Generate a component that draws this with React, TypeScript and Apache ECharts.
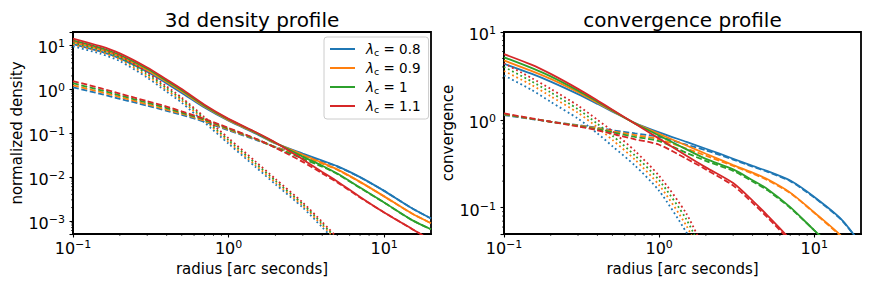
import React, { useEffect, useRef } from 'react';
import * as echarts from 'echarts';

// radius sample points [arc seconds]
const RADIUS = [0.1, 0.15, 0.2, 0.3, 0.4, 0.5, 0.7, 1, 1.5, 2, 3, 4, 5, 7, 10, 15, 20];
const LAMBDA_LABELS = ['0.8', '0.9', '1', '1.1'];
const COLORS = ['#1f77b4', '#ff7f0e', '#2ca02c', '#d62728'];

// 3d density profile: total (solid)
const DENS_TOTAL_08 = [10.6, 7.2, 5.0, 2.5, 1.35, 0.82, 0.38, 0.19, 0.097, 0.058, 0.034, 0.0236, 0.0176, 0.0099, 0.0048, 0.00195, 0.00113];
const DENS_TOTAL_09 = [11.8, 8.0, 5.5, 2.7, 1.45, 0.88, 0.4, 0.197, 0.1, 0.059, 0.032, 0.021, 0.0148, 0.0077, 0.0036, 0.00148, 0.00088];
const DENS_TOTAL_10 = [12.9, 8.7, 6.0, 2.9, 1.55, 0.94, 0.42, 0.204, 0.102, 0.06, 0.029, 0.018, 0.0119, 0.0057, 0.0026, 0.00105, 0.00064];
const DENS_TOTAL_11 = [14.2, 9.5, 6.5, 3.1, 1.65, 1.0, 0.44, 0.21, 0.104, 0.061, 0.025, 0.013, 0.0079, 0.0035, 0.00155, 0.00066, 0.00036];
// 3d density profile: extended component (dashed)
const DENS_EXT_08 = [1.1, 0.78, 0.6, 0.42, 0.32, 0.26, 0.18, 0.115, 0.07, 0.048, 0.031, 0.0226, 0.0172, 0.0098, 0.0048, 0.00195, 0.00113];
const DENS_EXT_09 = [1.22, 0.86, 0.66, 0.45, 0.34, 0.275, 0.19, 0.12, 0.072, 0.048, 0.029, 0.02, 0.0145, 0.0076, 0.0036, 0.00148, 0.00088];
const DENS_EXT_10 = [1.36, 0.95, 0.72, 0.49, 0.37, 0.29, 0.2, 0.125, 0.073, 0.047, 0.026, 0.0171, 0.0116, 0.0056, 0.0026, 0.00105, 0.00064];
const DENS_EXT_11 = [1.52, 1.05, 0.79, 0.53, 0.4, 0.31, 0.21, 0.13, 0.074, 0.046, 0.022, 0.012, 0.0075, 0.0034, 0.00155, 0.00066, 0.00036];
// 3d density profile: compact component (dotted), up to r = 5
const DENS_CMP_08 = [9.4, 6.4, 4.35, 1.83, 0.87, 0.49, 0.174, 0.057, 0.0165, 0.0068, 0.002, 0.00071, 0.00031];
const DENS_CMP_09 = [10.4, 7.1, 4.8, 2.0, 0.96, 0.54, 0.192, 0.063, 0.0182, 0.0075, 0.0022, 0.00079, 0.00035];
const DENS_CMP_10 = [11.3, 7.8, 5.25, 2.2, 1.05, 0.59, 0.21, 0.069, 0.02, 0.0082, 0.0024, 0.00086, 0.00038];
const DENS_CMP_11 = [12.4, 8.5, 5.75, 2.4, 1.15, 0.64, 0.23, 0.076, 0.022, 0.009, 0.0026, 0.00094, 0.00041];

// convergence profile: total (solid)
const CONV_TOTAL_08 = [4.35, 3.35, 2.72, 1.96, 1.52, 1.24, 0.92, 0.72, 0.56, 0.468, 0.36, 0.298, 0.26, 0.203, 0.132, 0.073, 0.038];
const CONV_TOTAL_09 = [4.75, 3.6, 2.92, 2.06, 1.56, 1.26, 0.91, 0.69, 0.51, 0.41, 0.305, 0.25, 0.21, 0.148, 0.088, 0.047, 0.025];
const CONV_TOTAL_10 = [5.15, 3.9, 3.12, 2.15, 1.61, 1.28, 0.905, 0.66, 0.46, 0.358, 0.272, 0.205, 0.162, 0.101, 0.055, 0.028, 0.016];
const CONV_TOTAL_11 = [5.6, 4.25, 3.33, 2.25, 1.66, 1.3, 0.9, 0.61, 0.39, 0.287, 0.19, 0.12, 0.081, 0.043, 0.018, 0.006, 0.003];
// convergence profile: extended component (dashed)
const CONV_EXT_08 = [1.13, 1.02, 0.95, 0.87, 0.81, 0.76, 0.7, 0.64, 0.52, 0.45, 0.352, 0.293, 0.255, 0.2, 0.13, 0.072, 0.038];
const CONV_EXT_09 = [1.15, 1.03, 0.95, 0.86, 0.8, 0.74, 0.67, 0.6, 0.47, 0.39, 0.298, 0.244, 0.205, 0.146, 0.087, 0.046, 0.025];
const CONV_EXT_10 = [1.16, 1.03, 0.95, 0.85, 0.78, 0.72, 0.64, 0.57, 0.42, 0.34, 0.262, 0.198, 0.157, 0.099, 0.055, 0.028, 0.016];
const CONV_EXT_11 = [1.18, 1.04, 0.95, 0.84, 0.76, 0.69, 0.6, 0.52, 0.36, 0.272, 0.178, 0.113, 0.077, 0.041, 0.017, 0.0058, 0.0029];
// convergence profile: compact component (dotted), up to r = 2
const CONV_CMP_08 = [3.2, 2.2, 1.6, 1.03, 0.7, 0.5, 0.3, 0.155, 0.052, 0.02];
const CONV_CMP_09 = [3.6, 2.5, 1.85, 1.2, 0.82, 0.59, 0.35, 0.18, 0.062, 0.022];
const CONV_CMP_10 = [4.0, 2.75, 2.05, 1.32, 0.9, 0.66, 0.39, 0.205, 0.073, 0.026];
const CONV_CMP_11 = [4.4, 3.0, 2.25, 1.45, 1.0, 0.74, 0.44, 0.23, 0.085, 0.03];

// axis ranges and minor tick positions
const X_RANGE = [0.1, 20];
const DENS_RANGE = [5e-4, 20];
const CONV_RANGE = [0.05, 10];
const X_MINOR = [0.2, 0.3, 0.4, 0.5, 0.6, 0.7, 0.8, 0.9, 2, 3, 4, 5, 6, 7, 8, 9];
const DENS_MINOR = [6e-4, 7e-4, 8e-4, 9e-4, 2e-3, 3e-3, 4e-3, 5e-3, 6e-3, 7e-3, 8e-3, 9e-3, 0.02, 0.03, 0.04, 0.05, 0.06, 0.07, 0.08, 0.09, 0.2, 0.3, 0.4, 0.5, 0.6, 0.7, 0.8, 0.9, 2, 3, 4, 5, 6, 7, 8, 9];
const CONV_MINOR = [0.06, 0.07, 0.08, 0.09, 0.2, 0.3, 0.4, 0.5, 0.6, 0.7, 0.8, 0.9, 2, 3, 4, 5, 6, 7, 8, 9];

const FONT = 'DejaVu Sans';

const DENS_SETS = [
  [DENS_TOTAL_08, DENS_EXT_08, DENS_CMP_08],
  [DENS_TOTAL_09, DENS_EXT_09, DENS_CMP_09],
  [DENS_TOTAL_10, DENS_EXT_10, DENS_CMP_10],
  [DENS_TOTAL_11, DENS_EXT_11, DENS_CMP_11],
];
const CONV_SETS = [
  [CONV_TOTAL_08, CONV_EXT_08, CONV_CMP_08],
  [CONV_TOTAL_09, CONV_EXT_09, CONV_CMP_09],
  [CONV_TOTAL_10, CONV_EXT_10, CONV_CMP_10],
  [CONV_TOTAL_11, CONV_EXT_11, CONV_CMP_11],
];

const logLabel = (v: number) => {
  const e = Math.log10(v);
  const r = Math.round(e);
  if (Math.abs(e - r) > 1e-6) return '';
  const s = r < 0 ? '\u2212' + -r : String(r);
  return `{b|10}{p|${s}}`;
};

const tickRich = {
  b: { fontSize: 16, lineHeight: 19, fontFamily: FONT, color: '#000' },
  p: { fontSize: 11, lineHeight: 11, verticalAlign: 'top', fontFamily: FONT, color: '#000' },
};

const makeX = (gridIndex: number) => ({
  type: 'log',
  logBase: 10,
  gridIndex,
  min: X_RANGE[0],
  max: X_RANGE[1],
  name: 'radius [arc seconds]',
  nameLocation: 'middle',
  nameGap: 21,
  nameTextStyle: { fontSize: 15, fontFamily: FONT, color: '#000' },
  axisLine: { show: true, lineStyle: { color: '#000', width: 1.8 } },
  axisTick: { show: true, length: 3.5, lineStyle: { color: '#000', width: 1.1 } },
  splitLine: { show: false },
  axisLabel: { formatter: logLabel, rich: tickRich, margin: 5, showMaxLabel: false },
});

const makeY = (gridIndex: number, range: number[], name: string, gap: number) => ({
  type: 'log',
  logBase: 10,
  gridIndex,
  min: range[0],
  max: range[1],
  name,
  nameLocation: 'middle',
  nameGap: gap,
  nameTextStyle: { fontSize: 15, fontFamily: FONT, color: '#000' },
  axisLine: { show: true, lineStyle: { color: '#000', width: 1.8 } },
  axisTick: { show: true, length: 3.5, lineStyle: { color: '#000', width: 1.1 } },
  splitLine: { show: false },
  axisLabel: { formatter: logLabel, rich: tickRich, margin: 8, padding: [5, 0, 0, 0] },
});

const lineSeries = (name: string, axis: number, values: number[], color: string, type: any, z: number) => ({
  name,
  type: 'line',
  xAxisIndex: axis,
  yAxisIndex: axis,
  data: values.map((v, i) => [RADIUS[i], v]),
  showSymbol: false,
  symbol: 'none',
  smooth: 0.25,
  lineStyle: { color, width: 1.8, type, cap: 'butt' },
  itemStyle: { color },
  z,
  silent: true,
});

const minorSeries = (axis: number, values: number[], dir: 'x' | 'y', at: number) => ({
  type: 'custom',
  xAxisIndex: axis,
  yAxisIndex: axis,
  silent: true,
  clip: false,
  z: 20,
  data: values.map((v) => (dir === 'x' ? [v, at] : [at, v])),
  renderItem: (_p: any, api: any) => {
    const pt = api.coord([api.value(0), api.value(1)]);
    return {
      type: 'line',
      shape:
        dir === 'x'
          ? { x1: pt[0], y1: pt[1], x2: pt[0], y2: pt[1] + 2 }
          : { x1: pt[0] - 2, y1: pt[1], x2: pt[0], y2: pt[1] },
      style: { stroke: '#000', lineWidth: 0.7 },
    };
  },
});

export default function App() {
  const ref = useRef<HTMLDivElement>(null);
  useEffect(() => {
    document.body.style.margin = '0';
    if (!ref.current) return;
    const chart = echarts.init(ref.current, undefined, { renderer: 'svg' });
    const series: any[] = [];
    const DASH = [6, 2.6];
    const DOT = [1.8, 2.8];
    [DENS_SETS, CONV_SETS].forEach((sets, axis) => {
      sets.forEach((set, k) => {
        const c = COLORS[k];
        const lbl = LAMBDA_LABELS[k];
        series.push(lineSeries(axis === 0 ? `λc = ${lbl}` : `total ${lbl}`, axis, set[0], c, 'solid', 3 + k));
        series.push(lineSeries(`extended ${axis} ${lbl}`, axis, set[1], c, DASH, 3 + k));
        series.push(lineSeries(`compact ${axis} ${lbl}`, axis, set[2], c, DOT, 3 + k));
      });
    });
    series.push(minorSeries(0, X_MINOR, 'x', DENS_RANGE[0]));
    series.push(minorSeries(0, DENS_MINOR, 'y', X_RANGE[0]));
    series.push(minorSeries(1, X_MINOR, 'x', CONV_RANGE[0]));
    series.push(minorSeries(1, CONV_MINOR, 'y', X_RANGE[0]));

    chart.setOption({
      animation: false,
      backgroundColor: '#fff',
      textStyle: { fontFamily: FONT },
      grid: [
        { left: 73, top: 32, width: 358, height: 202, show: true, borderColor: '#000', borderWidth: 1.8, backgroundColor: 'transparent' },
        { left: 504, top: 32, width: 357, height: 202, show: true, borderColor: '#000', borderWidth: 1.8, backgroundColor: 'transparent' },
      ],
      xAxis: [makeX(0), makeX(1)],
      yAxis: [
        makeY(0, DENS_RANGE, 'normalized density', 45),
        makeY(1, CONV_RANGE, 'convergence', 47),
      ],
      legend: {
        data: LAMBDA_LABELS.map((l) => `λc = ${l}`),
        orient: 'vertical',
        left: 324,
        top: 37,
        padding: [5, 8, 5, 6],
        itemGap: 4,
        itemWidth: 25,
        itemHeight: 2,
        icon: 'rect',
        backgroundColor: 'rgba(255,255,255,0.85)',
        borderColor: '#cccccc',
        borderWidth: 1,
        borderRadius: 3,
        selectedMode: false,
        formatter: (name: string) => {
          const v = name.split('= ')[1];
          return `{l|λ}{s|c}{t| = ${v}}`;
        },
        textStyle: {
          fontFamily: FONT,
          color: '#000',
          rich: {
            l: { fontSize: 13.5, lineHeight: 16, fontStyle: 'italic', fontFamily: FONT, color: '#000', padding: [0, 0, 0, 6] },
            s: { fontSize: 9.5, lineHeight: 9, verticalAlign: 'bottom', fontFamily: FONT, color: '#000' },
            t: { fontSize: 13.5, lineHeight: 16, fontFamily: FONT, color: '#000' },
          },
        },
      },
      graphic: [
        { type: 'text', x: 252, y: 20, style: { text: '3d density profile', fontSize: 20, fontFamily: FONT, fill: '#000', align: 'center', verticalAlign: 'middle' } },
        { type: 'text', x: 682.5, y: 20, style: { text: 'convergence profile', fontSize: 20, fontFamily: FONT, fill: '#000', align: 'center', verticalAlign: 'middle' } },
      ],
      series,
    });
    return () => chart.dispose();
  }, []);
  return <div ref={ref} style={{ width: 872, height: 291 }} />;
}
